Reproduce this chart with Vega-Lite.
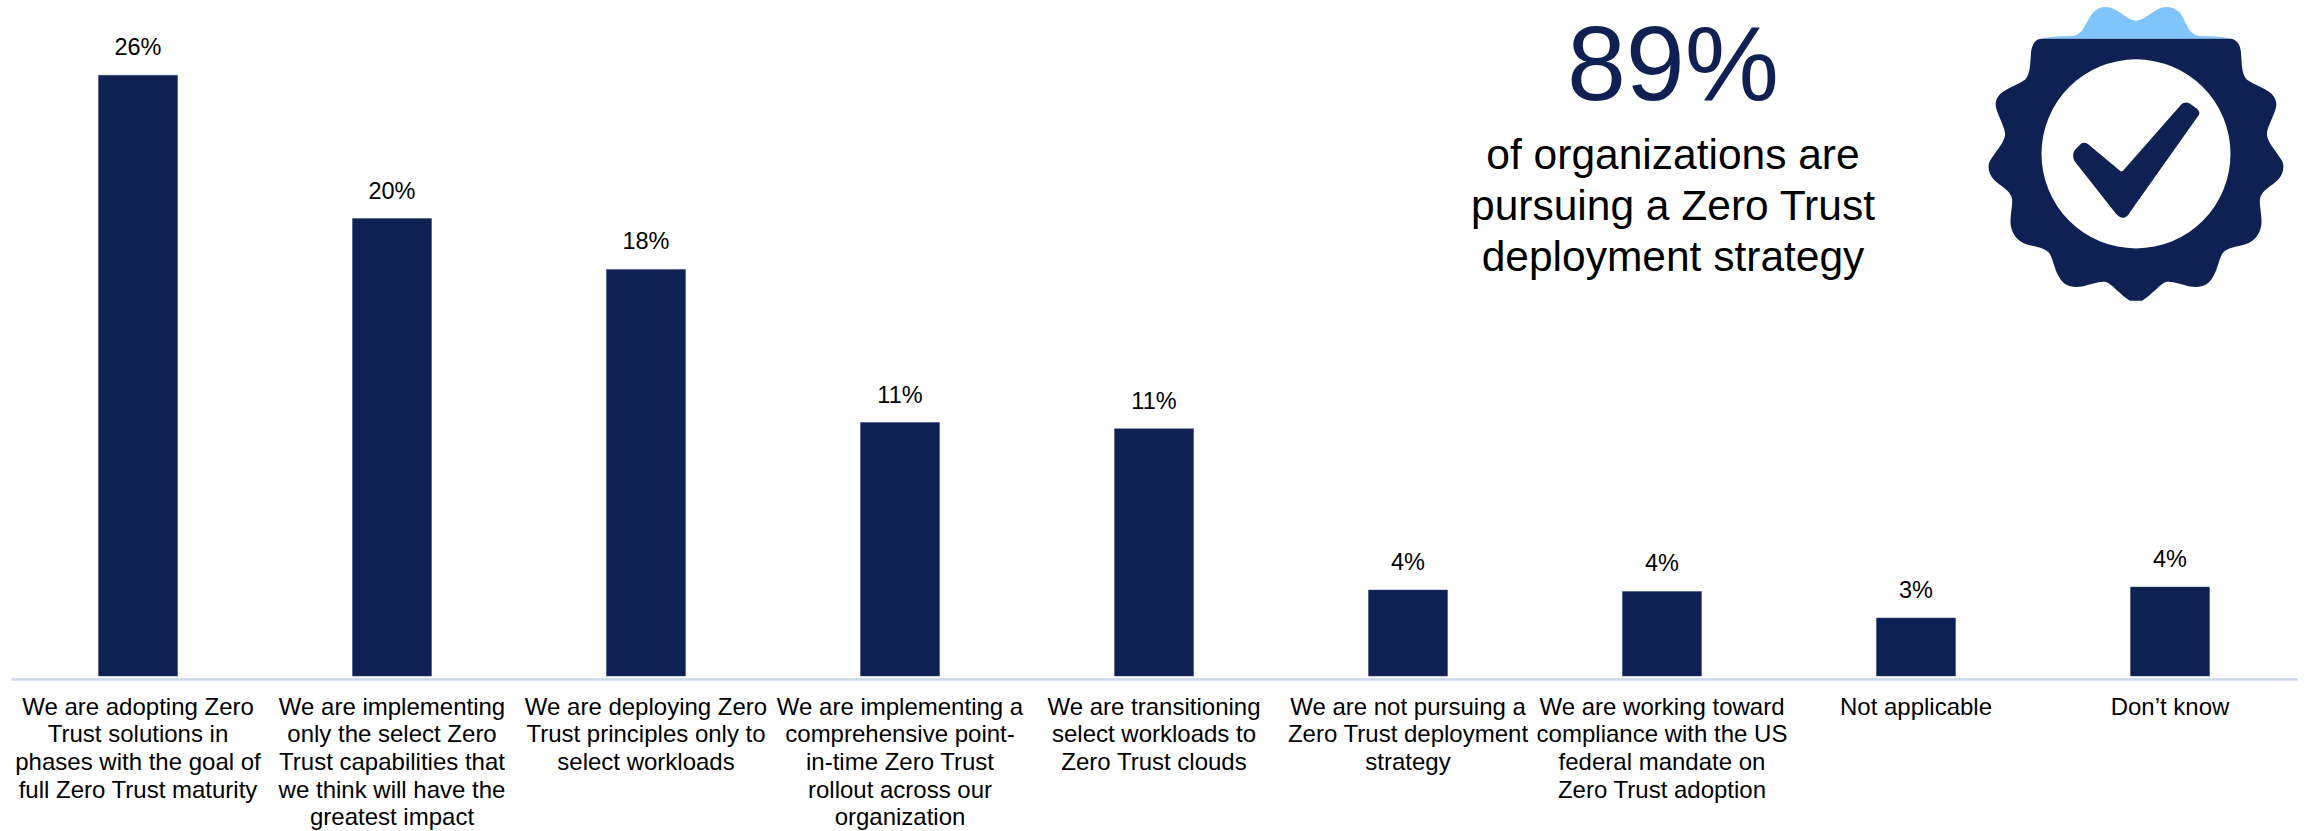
{
  "$schema": "https://vega.github.io/schema/vega-lite/v6.json",
  "width": 2286,
  "height": 670,
  "autosize": "none",
  "padding": {"left": 11, "top": 6, "right": 8, "bottom": 155},
  "background": "white",
  "view": {"stroke": null},
  "config": {"font": "Liberation Sans"},
  "datasets": {
    "answers": [
      {"statement": "We are adopting Zero|Trust solutions in|phases with the goal of|full Zero Trust maturity", "share": 0.26},
      {"statement": "We are implementing|only the select Zero|Trust capabilities that|we think will have the|greatest impact", "share": 0.198},
      {"statement": "We are deploying Zero|Trust principles only to|select workloads", "share": 0.176},
      {"statement": "We are implementing a|comprehensive point-|in-time Zero Trust|rollout across our|organization", "share": 0.1097},
      {"statement": "We are transitioning|select workloads to|Zero Trust clouds", "share": 0.107},
      {"statement": "We are not pursuing a|Zero Trust deployment|strategy", "share": 0.0372},
      {"statement": "We are working toward|compliance with the US|federal mandate on|Zero Trust adoption", "share": 0.0366},
      {"statement": "Not applicable", "share": 0.0251},
      {"statement": "Don’t know", "share": 0.0385}
    ],
    "callout": [
      {"anchor": "We are working toward|compliance with the US|federal mandate on|Zero Trust adoption", "level": 0.2492, "line": "89%", "kind": "figure"},
      {"anchor": "We are working toward|compliance with the US|federal mandate on|Zero Trust adoption", "level": 0.2195, "line": "of organizations are", "kind": "text"},
      {"anchor": "We are working toward|compliance with the US|federal mandate on|Zero Trust adoption", "level": 0.1974, "line": "pursuing a Zero Trust", "kind": "text"},
      {"anchor": "We are working toward|compliance with the US|federal mandate on|Zero Trust adoption", "level": 0.1753, "line": "deployment strategy", "kind": "text"}
    ],
    "badge": [
      {"anchor": "Don’t know", "level": 0.226}
    ]
  },
  "encoding": {
    "x": {
      "field": "statement",
      "type": "nominal",
      "sort": null,
      "scale": {"paddingInner": 0.689, "paddingOuter": 0.3445},
      "axis": {
        "title": null,
        "offset": 3,
        "domainColor": "#C9D6E8",
        "domainWidth": 2.5,
        "ticks": false,
        "labelAngle": 0,
        "labelAlign": "center",
        "labelBaseline": "top",
        "labelFont": "Liberation Sans",
        "labelFontSize": 24,
        "labelLineHeight": 27.7,
        "labelColor": "#000000",
        "labelPadding": 16,
        "labelLimit": 400,
        "labelOverlap": false,
        "labelSeparation": 0,
        "labelExpr": "split(datum.label, '|')"
      }
    },
    "y": {
      "field": "share",
      "type": "quantitative",
      "scale": {"domain": [0, 0.29], "nice": false},
      "axis": null
    }
  },
  "layer": [
    {
      "data": {"name": "answers"},
      "mark": {"type": "bar", "color": "#0E2152", "stroke": "#2F4470", "strokeWidth": 0.5}
    },
    {
      "data": {"name": "answers"},
      "mark": {"type": "text", "baseline": "bottom", "dy": -15, "fontSize": 23.5, "color": "#000000"},
      "encoding": {
        "text": {"field": "share", "type": "quantitative", "format": ".0%"}
      }
    },
    {
      "data": {"name": "callout"},
      "transform": [{"filter": "datum.kind === 'figure'"}],
      "mark": {"type": "text", "baseline": "alphabetic", "dx": 11, "fontSize": 106, "color": "#0E2152"},
      "encoding": {
        "x": {"field": "anchor", "type": "nominal", "sort": null},
        "y": {"field": "level", "type": "quantitative"},
        "text": {"field": "line"}
      }
    },
    {
      "data": {"name": "callout"},
      "transform": [{"filter": "datum.kind === 'text'"}],
      "mark": {"type": "text", "baseline": "alphabetic", "dx": 11, "fontSize": 42.5, "color": "#000000"},
      "encoding": {
        "x": {"field": "anchor", "type": "nominal", "sort": null},
        "y": {"field": "level", "type": "quantitative"},
        "text": {"field": "line"}
      }
    },
    {
      "data": {"name": "badge"},
      "mark": {
        "type": "point",
        "filled": true,
        "opacity": 1,
        "size": 4,
        "xOffset": -34,
        "color": "#7FC4FB",
        "strokeWidth": 0,
        "shape": "M -94,-115 C -85,-118 -70,-117 -62,-118 C -52,-120 -50,-133 -43,-141 C -38,-147 -32,-148 -25,-146 C -16,-143 -7,-133 0,-133 C 7,-133 17,-143 25,-146 C 32,-148 38,-147 44,-141 C 50,-133 52,-120 62,-118 C 70,-117 85,-118 95,-115 Z"
      },
      "encoding": {
        "x": {"field": "anchor", "type": "nominal", "sort": null},
        "y": {"field": "level", "type": "quantitative"}
      }
    },
    {
      "data": {"name": "badge"},
      "mark": {
        "type": "point",
        "filled": true,
        "opacity": 1,
        "size": 4,
        "xOffset": -34,
        "color": "#0E2152",
        "strokeWidth": 0,
        "shape": "M -94,-115 L 94,-115 C 101,-115 105,-108 105,-100 C 106,-92 105,-80 111,-74 C 118,-69 126,-67 133,-62 C 140,-57 142,-50 139,-43 C 136,-34 130,-24 131,-18 C 132,-11 142,0 146,7 C 149,13 147,21 142,26 C 136,32 125,37 124,45 C 123,53 127,65 125,73 C 123,83 116,89 108,91 C 100,93 91,94 87,99 C 83,104 82,115 77,123 C 73,131 66,134 57,133 C 48,132 38,127 31,128 C 25,129 16,141 6,147 L -6,147 C -16,141 -25,129 -31,128 C -38,127 -48,132 -57,133 C -66,134 -73,131 -77,123 C -82,115 -83,104 -87,99 C -91,94 -100,93 -108,91 C -116,89 -123,83 -125,73 C -127,65 -123,53 -124,45 C -125,37 -136,32 -142,26 C -147,21 -149,13 -146,7 C -142,0 -132,-11 -131,-18 C -130,-24 -136,-34 -139,-43 C -142,-50 -140,-57 -133,-62 C -126,-67 -118,-69 -111,-74 C -105,-80 -106,-92 -105,-100 C -105,-108 -101,-115 -94,-115 Z"
      },
      "encoding": {
        "x": {"field": "anchor", "type": "nominal", "sort": null},
        "y": {"field": "level", "type": "quantitative"}
      }
    },
    {
      "data": {"name": "badge"},
      "mark": {
        "type": "point",
        "filled": true,
        "opacity": 1,
        "size": 35721,
        "shape": "circle",
        "xOffset": -34,
        "color": "#FFFFFF",
        "strokeWidth": 0
      },
      "encoding": {
        "x": {"field": "anchor", "type": "nominal", "sort": null},
        "y": {"field": "level", "type": "quantitative"}
      }
    },
    {
      "data": {"name": "badge"},
      "mark": {
        "type": "point",
        "filled": true,
        "opacity": 1,
        "size": 4,
        "xOffset": -34,
        "color": "#0E2152",
        "strokeWidth": 0,
        "shape": "M -61,8 C -64,3 -63,-2 -60,-5 L -55,-10 C -52,-12 -49,-11 -46,-8 L -16,17 C -15,18 -14,18 -13,17 L 45,-49 C 48,-52 51,-52 54,-50 L 61,-45 C 63,-43 64,-41 63,-39 L -5,57 C -8,62 -10,64 -13,64 C -16,64 -18,62 -20,60 Z"
      },
      "encoding": {
        "x": {"field": "anchor", "type": "nominal", "sort": null},
        "y": {"field": "level", "type": "quantitative"}
      }
    }
  ]
}
